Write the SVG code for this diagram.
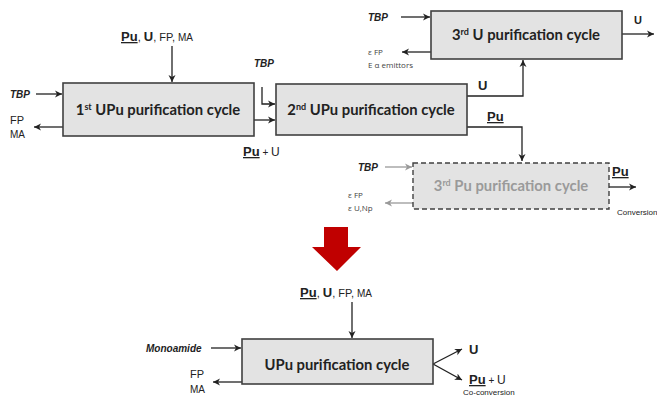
<svg xmlns="http://www.w3.org/2000/svg" width="657" height="396" viewBox="0 0 657 396">
<defs>
<marker id="ah" markerWidth="8" markerHeight="8" refX="7" refY="4" orient="auto" markerUnits="userSpaceOnUse"><path d="M0,0.5 L7,4 L0,7.5 L2,4 Z" fill="#222"/></marker>
<marker id="ahg" markerWidth="8" markerHeight="8" refX="7" refY="4" orient="auto" markerUnits="userSpaceOnUse"><path d="M0,0.5 L7,4 L0,7.5 L2,4 Z" fill="#999"/></marker>
<style>
.box{fill:#e3e3e3;stroke:#404040;stroke-width:1.6}
.dbox{fill:#e3e3e3;stroke:#404040;stroke-width:1.4;stroke-dasharray:5,3}
.bt{font-family:Lato,"Open Sans",sans-serif;font-weight:bold;font-size:14.8px;fill:#222;text-anchor:middle}
.bg{fill:#9a9a9a}
.sup{font-size:9px}
.ln{fill:none;stroke:#222;stroke-width:1.3}
.lg{fill:none;stroke:#999;stroke-width:1.3}
.a{font-family:"Liberation Sans",Arial,sans-serif;fill:#222}
.lb{font-weight:bold;font-size:13px}
.it{font-weight:bold;font-style:italic;font-size:10px}
.sm{font-size:11px}
.xs{font-family:"Open Sans",sans-serif;font-size:8px;fill:#444}
</style>
</defs>
<rect width="657" height="396" fill="#fff"/>

<g id="connectors">
<line class="ln" x1="172" y1="46" x2="172" y2="82" marker-end="url(#ah)"/>
<line class="ln" x1="36" y1="94" x2="62" y2="94" marker-end="url(#ah)"/>
<line class="ln" x1="63" y1="127" x2="34" y2="127" marker-end="url(#ah)"/>
<polyline class="ln" points="262,87 262,104 275,104" marker-end="url(#ah)"/>
<line class="ln" x1="254" y1="120" x2="275" y2="120" marker-end="url(#ah)"/>
<polyline class="ln" points="467,96 523,96 523,60" marker-end="url(#ah)"/>
<line class="ln" x1="401" y1="17" x2="430" y2="17" marker-end="url(#ah)"/>
<line class="ln" x1="431" y1="52" x2="402" y2="52" marker-end="url(#ah)"/>
<line class="ln" x1="622" y1="34" x2="654" y2="34" marker-end="url(#ah)"/>
<polyline class="ln" points="467,127 522,127 522,161" marker-end="url(#ah)"/>
<line class="lg" x1="385" y1="167" x2="412" y2="167" marker-end="url(#ahg)"/>
<line class="lg" x1="413" y1="203" x2="385" y2="203" marker-end="url(#ahg)"/>
<line class="ln" x1="609" y1="187" x2="636" y2="187" marker-end="url(#ah)"/>
<line class="ln" x1="352" y1="302" x2="352" y2="338" marker-end="url(#ah)"/>
<line class="ln" x1="211" y1="348" x2="241" y2="348" marker-end="url(#ah)"/>
<line class="ln" x1="242" y1="382" x2="213" y2="382" marker-end="url(#ah)"/>
<line class="ln" x1="433" y1="364" x2="462" y2="349" marker-end="url(#ah)"/>
<line class="ln" x1="433" y1="364" x2="462" y2="380" marker-end="url(#ah)"/>
</g>

<g id="red-arrow">
<path d="M324,227 L348,227 L348,247 L361,247 L337,271 L312,247 L324,247 Z" fill="#c00000"/>
</g>

<g id="n1">
<rect class="box" x="63" y="83" width="191" height="53"/>
<text class="bt" x="158" y="115">1<tspan class="sup" dy="-5">st</tspan><tspan dy="5"> UPu purification cycle</tspan></text>
</g>
<g id="n2">
<rect class="box" x="276" y="84" width="191" height="51"/>
<text class="bt" x="371" y="115">2<tspan class="sup" dy="-5">nd</tspan><tspan dy="5"> UPu purification cycle</tspan></text>
</g>
<g id="n3">
<rect class="box" x="431" y="11" width="191" height="48"/>
<text class="bt" x="526" y="40">3<tspan class="sup" dy="-5">rd</tspan><tspan dy="5"> U purification cycle</tspan></text>
</g>
<g id="n4">
<rect class="dbox" x="413" y="163" width="196" height="46"/>
<text class="bt bg" x="511" y="191">3<tspan class="sup" dy="-5">rd</tspan><tspan dy="5"> Pu purification cycle</tspan></text>
</g>
<g id="n5">
<rect class="box" x="242" y="339" width="191" height="45"/>
<text class="bt" x="337" y="370">UPu purification cycle</text>
</g>

<g id="labels">
<text class="a" x="121" y="41"><tspan class="lb" text-decoration="underline">Pu</tspan><tspan class="sm">, </tspan><tspan class="lb">U</tspan><tspan class="sm">, FP, </tspan><tspan font-size="10">MA</tspan></text>
<text class="a it" x="10" y="98">TBP</text>
<text class="a sm" x="10" y="124">FP</text>
<text class="a" x="10" y="138" font-size="10">MA</text>
<text class="a it" x="254" y="67">TBP</text>
<text class="a" x="243" y="156"><tspan class="lb" text-decoration="underline">Pu</tspan><tspan font-size="10"> + </tspan><tspan font-size="12">U</tspan></text>
<text class="a it" x="368" y="21">TBP</text>
<text class="xs" x="368" y="55">ε FP</text>
<text class="xs" x="368" y="68">E α emittors</text>
<text class="a" x="634" y="24" font-size="11" font-weight="bold">U</text>
<text class="a lb" x="478" y="90" font-size="12">U</text>
<text class="a lb" x="487" y="121" text-decoration="underline">Pu</text>
<text class="a it" x="358" y="171">TBP</text>
<text class="xs" x="348" y="198">ε FP</text>
<text class="xs" x="348" y="211">ε U,Np</text>
<text class="a lb" x="612" y="176" text-decoration="underline">Pu</text>
<text class="a" x="617" y="215" font-size="8">Conversion</text>
<text class="a" x="300" y="297"><tspan class="lb" text-decoration="underline">Pu</tspan><tspan class="sm">, </tspan><tspan class="lb">U</tspan><tspan class="sm">, FP, </tspan><tspan font-size="10">MA</tspan></text>
<text class="a it" x="146" y="352">Monoamide</text>
<text class="a sm" x="190" y="378">FP</text>
<text class="a" x="190" y="393" font-size="10">MA</text>
<text class="a lb" x="469" y="354">U</text>
<text class="a" x="469" y="384"><tspan class="lb" text-decoration="underline">Pu</tspan><tspan font-size="10"> + </tspan><tspan font-size="12">U</tspan></text>
<text class="a" x="463" y="395" font-size="8">Co-conversion</text>
</g>
</svg>
